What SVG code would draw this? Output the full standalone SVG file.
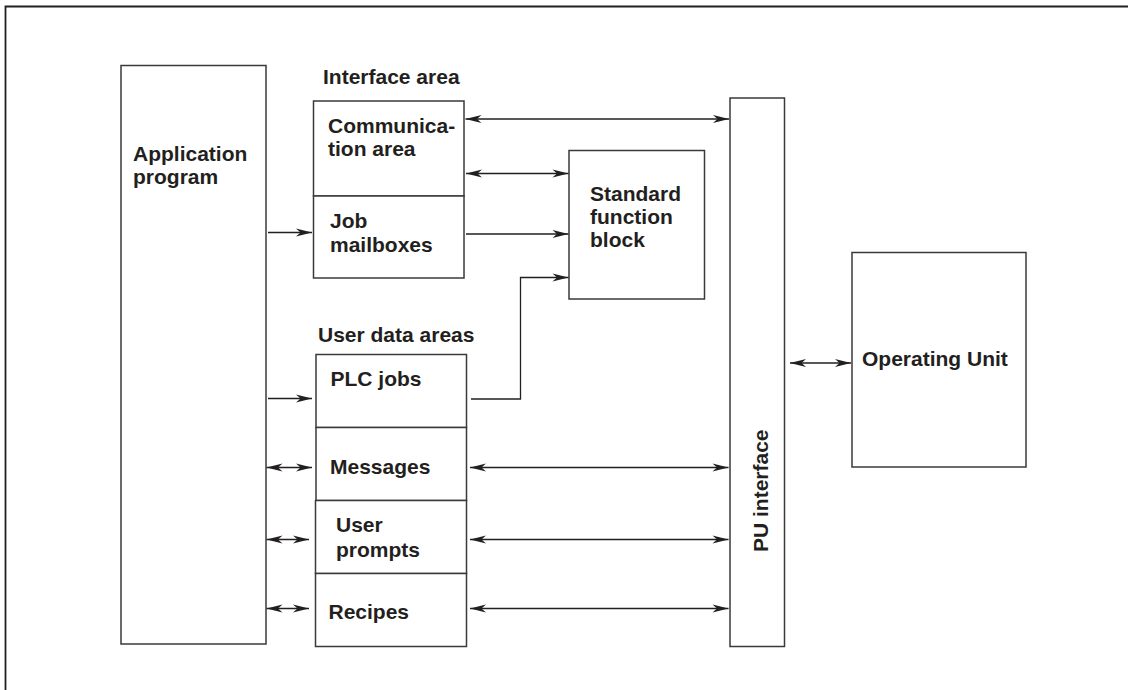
<svg xmlns="http://www.w3.org/2000/svg" width="1128" height="690" viewBox="0 0 1128 690">
  <style>
    .box { fill: #ffffff; stroke: #3a3a3a; stroke-width: 1.5; }
    .lbl { font-family: "Liberation Sans", Arial, sans-serif; font-weight: bold; font-size: 21px; fill: #231f20; }
    .wire { fill: none; stroke: #231f20; stroke-width: 1.3; }
    .one { marker-end: url(#head); }
    .two { marker-start: url(#head); marker-end: url(#head); }
  </style>
  <defs>
    <marker id="head" markerUnits="userSpaceOnUse" viewBox="-17 -5 18 10" refX="0" refY="0" markerWidth="18" markerHeight="10" orient="auto-start-reverse">
      <path d="M0,0 L-16,-3.9 L-11.5,0 L-16,3.9 Z" fill="#231f20"/>
    </marker>
  </defs>

  <rect width="1128" height="690" fill="#ffffff"/>
  <!-- page frame: top and left rules only -->
  <path d="M5.5,690 V6.5 H1128" fill="none" stroke="#231f20" stroke-width="1.8"/>

  <g id="application-program">
    <rect class="box" x="121" y="65.5" width="145" height="578.5"/>
    <text class="lbl" x="133" y="161">Application</text>
    <text class="lbl" x="133" y="184">program</text>
  </g>

  <g id="interface-area">
    <text class="lbl" x="323" y="84">Interface area</text>
  </g>

  <g id="communication-area">
    <rect class="box" x="313.5" y="101" width="150.5" height="95"/>
    <text class="lbl" x="328" y="133">Communica-</text>
    <text class="lbl" x="328" y="156">tion area</text>
  </g>

  <g id="job-mailboxes">
    <rect class="box" x="313.5" y="196" width="150.5" height="82"/>
    <text class="lbl" x="330" y="228">Job</text>
    <text class="lbl" x="330" y="251.5">mailboxes</text>
  </g>

  <g id="standard-function-block">
    <rect class="box" x="569" y="150.5" width="135.5" height="148.5"/>
    <text class="lbl" x="590" y="200.5">Standard</text>
    <text class="lbl" x="590" y="223.5">function</text>
    <text class="lbl" x="590" y="246.5">block</text>
  </g>

  <g id="user-data-areas">
    <text class="lbl" x="318" y="342">User data areas</text>
  </g>

  <g id="plc-jobs">
    <rect class="box" x="316" y="354.5" width="150.5" height="73"/>
    <text class="lbl" x="330.5" y="386">PLC jobs</text>
  </g>

  <g id="messages">
    <rect class="box" x="316" y="427.5" width="150.5" height="73"/>
    <text class="lbl" x="330" y="473.5">Messages</text>
  </g>

  <g id="user-prompts">
    <rect class="box" x="315.5" y="500.5" width="151" height="73"/>
    <text class="lbl" x="336" y="531.5">User</text>
    <text class="lbl" x="336" y="556.5">prompts</text>
  </g>

  <g id="recipes">
    <rect class="box" x="315.5" y="573.5" width="151" height="73"/>
    <text class="lbl" x="328.5" y="618.5">Recipes</text>
  </g>

  <g id="pu-interface">
    <rect class="box" x="730" y="98" width="54.5" height="548.5"/>
    <text class="lbl" transform="translate(767.5,552) rotate(-90)">PU interface</text>
  </g>

  <g id="operating-unit">
    <rect class="box" x="852" y="252.5" width="174" height="214.5"/>
    <text class="lbl" x="862" y="366">Operating Unit</text>
  </g>

  <g id="connectors">
    <!-- application program to interface and user data areas -->
    <line class="wire one" x1="268" y1="232.5" x2="312" y2="232.5"/>
    <line class="wire one" x1="268" y1="398.5" x2="312" y2="398.5"/>
    <line class="wire two" x1="266.5" y1="467.5" x2="312" y2="467.5"/>
    <line class="wire two" x1="266.5" y1="539.5" x2="309" y2="539.5"/>
    <line class="wire two" x1="266.5" y1="608.5" x2="309" y2="608.5"/>
    <!-- interface area links -->
    <line class="wire two" x1="465.5" y1="119" x2="729" y2="119"/>
    <line class="wire two" x1="466" y1="173.5" x2="568.5" y2="173.5"/>
    <line class="wire one" x1="466" y1="234" x2="568.5" y2="234"/>
    <polyline class="wire one" points="471,399 520.5,399 520.5,277.5 568.5,277.5"/>
    <!-- user data areas to PU interface -->
    <line class="wire two" x1="470" y1="467.5" x2="728.5" y2="467.5"/>
    <line class="wire two" x1="470" y1="539.5" x2="728.5" y2="539.5"/>
    <line class="wire two" x1="470" y1="608.5" x2="728.5" y2="608.5"/>
    <!-- PU interface to operating unit -->
    <line class="wire two" x1="790" y1="363" x2="851" y2="363"/>
  </g>
</svg>
